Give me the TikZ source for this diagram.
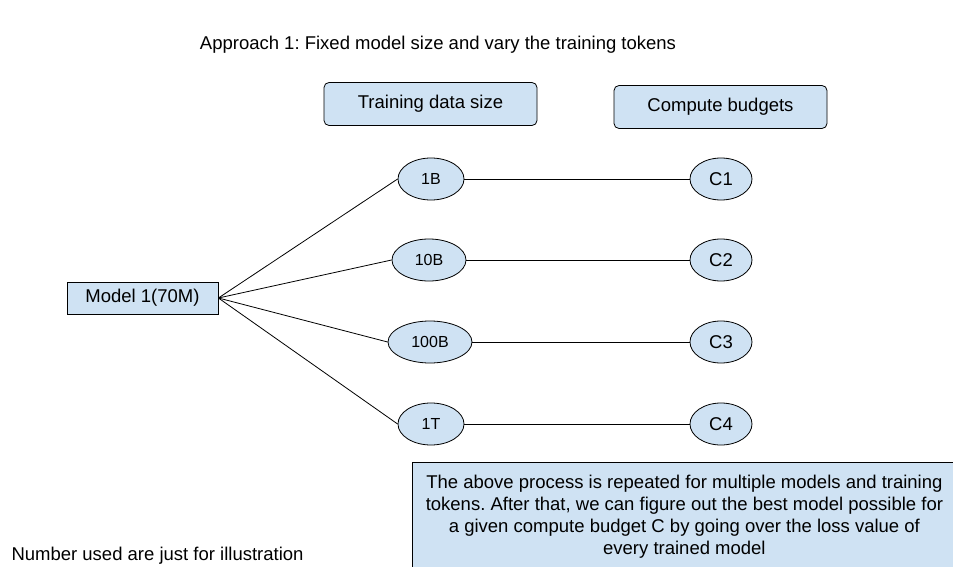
\documentclass[tikz,border=0pt]{standalone}
\usepackage{fontspec}
\setmainfont{Liberation Sans}
\usetikzlibrary{shapes.geometric}
\definecolor{boxblue}{HTML}{CFE2F3}
\frenchspacing
\begin{document}
\begin{tikzpicture}[x=1pt,y=-1pt,
  box/.style={draw=black,fill=boxblue,line width=0.8pt,inner sep=0pt,font=\fontsize{18.5}{22}\selectfont},
  header/.style={box,rounded corners=5pt,minimum width=213pt,minimum height=43pt},
  datanode/.style={box,ellipse,minimum height=42pt,font=\fontsize{16}{18}\selectfont},
  budget/.style={box,ellipse,minimum width=62pt,minimum height=42pt},
  link/.style={line width=0.8pt}]
\useasboundingbox (0,0) rectangle (953,567);
\node[font=\fontsize{18.5}{22}\selectfont] (title) at (438,45) {Approach 1: Fixed model size and vary the training tokens};
\node[header] (datasize) at (430.5,104) {Training data size};
\node[header] (budgets) at (720.5,107) {Compute budgets};
\node[box,minimum width=151pt,minimum height=32pt] (model) at (142.5,298) {Model 1(70M)};
\node[datanode,minimum width=66pt] (d1) at (431,179) {1B};
\node[datanode,minimum width=74pt] (d2) at (429,260) {10B};
\node[datanode,minimum width=84pt] (d3) at (430,342) {100B};
\node[datanode,minimum width=66pt] (d4) at (431,424) {1T};
\node[budget] (c1) at (721,179) {C1};
\node[budget] (c2) at (721,260) {C2};
\node[budget] (c3) at (721,342) {C3};
\node[budget] (c4) at (721,424) {C4};
\draw[link] (model.east) -- (d1.west);
\draw[link] (model.east) -- (d2.west);
\draw[link] (model.east) -- (d3.west);
\draw[link] (model.east) -- (d4.west);
\draw[link] (d1) -- (c1);
\draw[link] (d2) -- (c2);
\draw[link] (d3) -- (c3);
\draw[link] (d4) -- (c4);
\node[box,anchor=north west,minimum width=544pt,minimum height=108pt,align=center] (note) at (412,462)
  {The above process is repeated for multiple models and training\\
   tokens. After that, we can figure out the best model possible for\\
   a given compute budget C by going over the loss value of\\
   every trained model};
\node[anchor=west,font=\fontsize{18.5}{22}\selectfont] (remark) at (8,556) {Number used are just for illustration};
\end{tikzpicture}
\end{document}
